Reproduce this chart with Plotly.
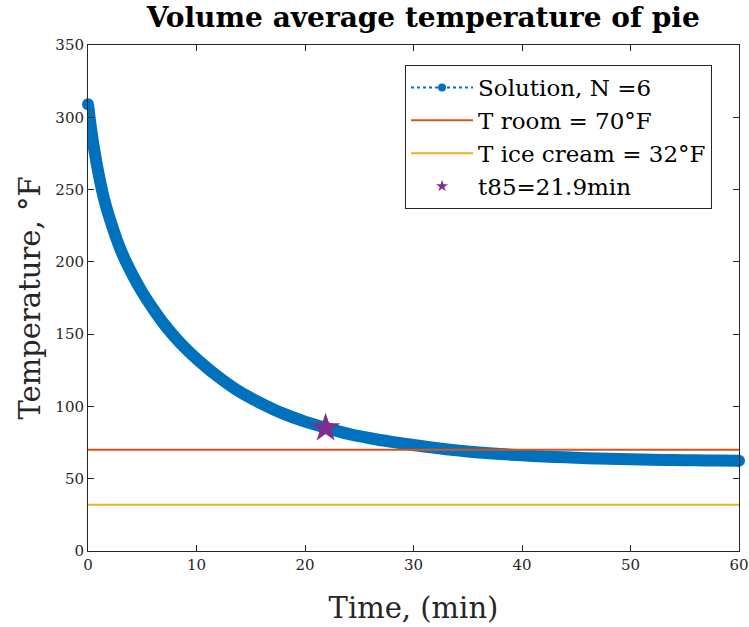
import plotly.graph_objects as go

# Data
time_min = [0, 0.25, 0.5, 1, 1.5, 2, 3, 4, 5, 6, 7, 8, 9, 10, 12, 14, 16, 18, 20, 22,
            24, 26, 28, 30, 32, 34, 36, 38, 40, 42, 44, 46, 48, 50, 52, 54, 56, 58, 60]
temp_F = [309, 294, 281, 260, 243, 230, 208.5, 192.5, 179, 167.5, 157, 148, 140, 133, 120.5, 110,
          102, 95, 89.5, 85, 81, 78, 75.5, 73.3, 71.3, 69.6, 68.2, 67.1, 66.2, 65.4, 64.8,
          64.2, 63.8, 63.4, 63.1, 62.9, 62.7, 62.6, 62.5]
t_room = 70
t_ice = 32
t85_time = 21.9
t85_temp = 85
x_range = [0, 60]
y_range = [0, 350]
x_ticks = [0, 10, 20, 30, 40, 50, 60]
y_ticks = [0, 50, 100, 150, 200, 250, 300, 350]

BLUE = "#0072BD"
ORANGE = "#D95319"
YELLOW = "#EDB120"
PURPLE = "#7E2F8E"
AX = "#262626"
FONT = "DejaVu Serif"

end_sizes = [12 if i in (0, len(time_min) - 1) else 0 for i in range(len(time_min))]

fig = go.Figure()

# thick solution curve
fig.add_trace(go.Scatter(
    x=time_min, y=temp_F, mode="lines+markers", cliponaxis=False,
    line=dict(color=BLUE, width=12, shape="spline", smoothing=0.8),
    marker=dict(color=BLUE, size=end_sizes, opacity=1, line=dict(width=0)),
    showlegend=False, hoverinfo="skip"))
# legend entry for solution
fig.add_trace(go.Scatter(
    x=[None], y=[None], mode="lines+markers", name="Solution, N =6",
    line=dict(color=BLUE, width=2, dash="dot"),
    marker=dict(color=BLUE, size=8, line=dict(width=0))))
fig.add_trace(go.Scatter(
    x=x_range, y=[t_room, t_room], mode="lines", name="T room = 70°F",
    line=dict(color=ORANGE, width=2)))
fig.add_trace(go.Scatter(
    x=x_range, y=[t_ice, t_ice], mode="lines", name="T ice cream = 32°F",
    line=dict(color=YELLOW, width=2)))
fig.add_trace(go.Scatter(
    x=[t85_time], y=[t85_temp], mode="markers",
    marker=dict(symbol="star", color=PURPLE, size=22, line=dict(width=0)),
    showlegend=False))
fig.add_trace(go.Scatter(
    x=[None], y=[None], mode="markers", name="t85=21.9min",
    marker=dict(symbol="star", color=PURPLE, size=9, line=dict(width=0))))

axis_common = dict(
    showline=True, linecolor=AX, linewidth=1, mirror="ticks",
    ticks="inside", ticklen=6, tickcolor=AX, showgrid=False, zeroline=False,
    automargin=False,
    tickfont=dict(family=FONT, size=15, color=AX))

fig.update_xaxes(range=x_range, tickvals=x_ticks,
                 title=dict(text="Time, (min)", font=dict(family=FONT, size=29, color=AX), standoff=24),
                 **axis_common)
fig.update_yaxes(range=y_range, tickvals=y_ticks,
                 title=dict(text="Temperature, °F", font=dict(family=FONT, size=29, color=AX), standoff=6),
                 **axis_common)

fig.update_layout(
    width=749, height=627,
    margin=dict(l=88, r=10, t=45, b=76),
    paper_bgcolor="white", plot_bgcolor="white",
    title=dict(text="<b>Volume average temperature of pie</b>", x=0.565, xanchor="center",
               y=0.972, yanchor="middle",
               font=dict(family=FONT, size=28, color="black")),
    legend=dict(x=0.487, y=0.9605, xanchor="left", yanchor="top",
                bgcolor="white", bordercolor=AX, borderwidth=1,
                font=dict(family=FONT, size=23, color="black"),
                itemwidth=62, tracegroupgap=0),
)

fig.write_html("out.html", config={"displayModeBar": False},
               post_script="document.body.style.margin='0';")
